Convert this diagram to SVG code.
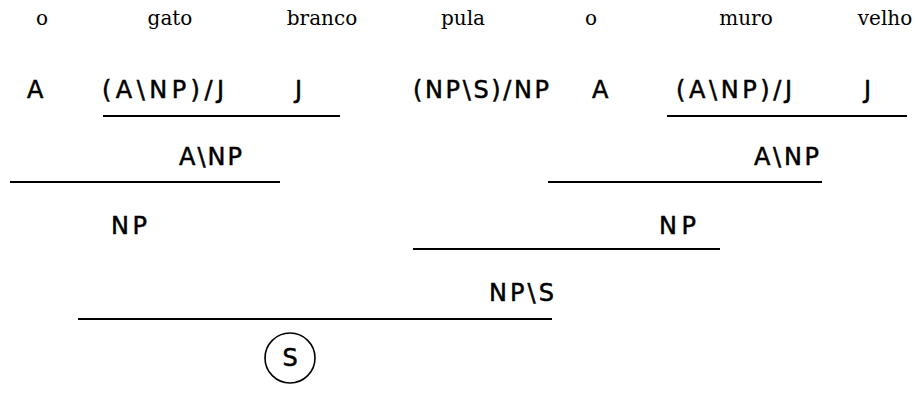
<svg xmlns="http://www.w3.org/2000/svg" width="918" height="393" viewBox="0 0 918 393">
  <style>
    .word { font-family: "DejaVu Serif", "Liberation Serif", serif; font-size: 20px; fill: #000; text-anchor: middle; }
    .cat { font-family: "DejaVu Sans", "Liberation Sans", sans-serif; font-size: 24px; fill: #000; stroke: #000; stroke-width: 0.5; }
    .rule { stroke: #000; stroke-width: 2; fill: none; }
    .root { stroke: #000; stroke-width: 1.6; fill: none; }
  </style>
  <rect width="918" height="393" fill="#fff"/>

  <!-- sentence words -->
  <g id="words">
    <g id="w-o1"><text class="word" x="42" y="25">o</text></g>
    <g id="w-gato"><text class="word" x="170" y="25">gato</text></g>
    <g id="w-branco"><text class="word" x="322" y="25">branco</text></g>
    <g id="w-pula"><text class="word" x="463" y="25">pula</text></g>
    <g id="w-o2"><text class="word" x="591" y="25">o</text></g>
    <g id="w-muro"><text class="word" x="746" y="25">muro</text></g>
    <g id="w-velho"><text class="word" x="885" y="25">velho</text></g>
  </g>

  <!-- lexical categories -->
  <g id="lexical">
    <g id="c-A1"><text class="cat" x="27" y="98">A</text></g>
    <g id="c-ANPJ1"><text class="cat" x="102" y="98" textLength="122" lengthAdjust="spacing">(A\NP)/J</text></g>
    <g id="c-J1"><text class="cat" x="295" y="98">J</text></g>
    <g id="c-NPSNP"><text class="cat" x="413" y="98" textLength="136" lengthAdjust="spacing">(NP\S)/NP</text></g>
    <g id="c-A2"><text class="cat" x="592" y="98">A</text></g>
    <g id="c-ANPJ2"><text class="cat" x="676" y="98" textLength="116" lengthAdjust="spacing">(A\NP)/J</text></g>
    <g id="c-J2"><text class="cat" x="864" y="98">J</text></g>
  </g>

  <!-- derived categories -->
  <g id="derived">
    <g id="d-ANP1"><text class="cat" x="179" y="165" textLength="63" lengthAdjust="spacing">A\NP</text></g>
    <g id="d-ANP2"><text class="cat" x="754" y="165" textLength="65" lengthAdjust="spacing">A\NP</text></g>
    <g id="d-NP1"><text class="cat" x="111" y="234" textLength="36" lengthAdjust="spacing">NP</text></g>
    <g id="d-NP2"><text class="cat" x="659" y="234" textLength="37" lengthAdjust="spacing">NP</text></g>
    <g id="d-NPS"><text class="cat" x="489" y="301" textLength="65" lengthAdjust="spacing">NP\S</text></g>
  </g>

  <!-- result -->
  <g id="result-S">
    <circle class="root" cx="290" cy="358" r="25"/>
    <text class="cat" x="290" y="366" text-anchor="middle">S</text>
  </g>

  <!-- combination rules -->
  <g id="connectors">
    <line class="rule" x1="103" y1="116" x2="340" y2="116"/>
    <line class="rule" x1="667" y1="116" x2="907" y2="116"/>
    <line class="rule" x1="10" y1="182" x2="280" y2="182"/>
    <line class="rule" x1="548" y1="182" x2="822" y2="182"/>
    <line class="rule" x1="413" y1="249" x2="720" y2="249"/>
    <line class="rule" x1="78" y1="319" x2="552" y2="319"/>
  </g>
</svg>
